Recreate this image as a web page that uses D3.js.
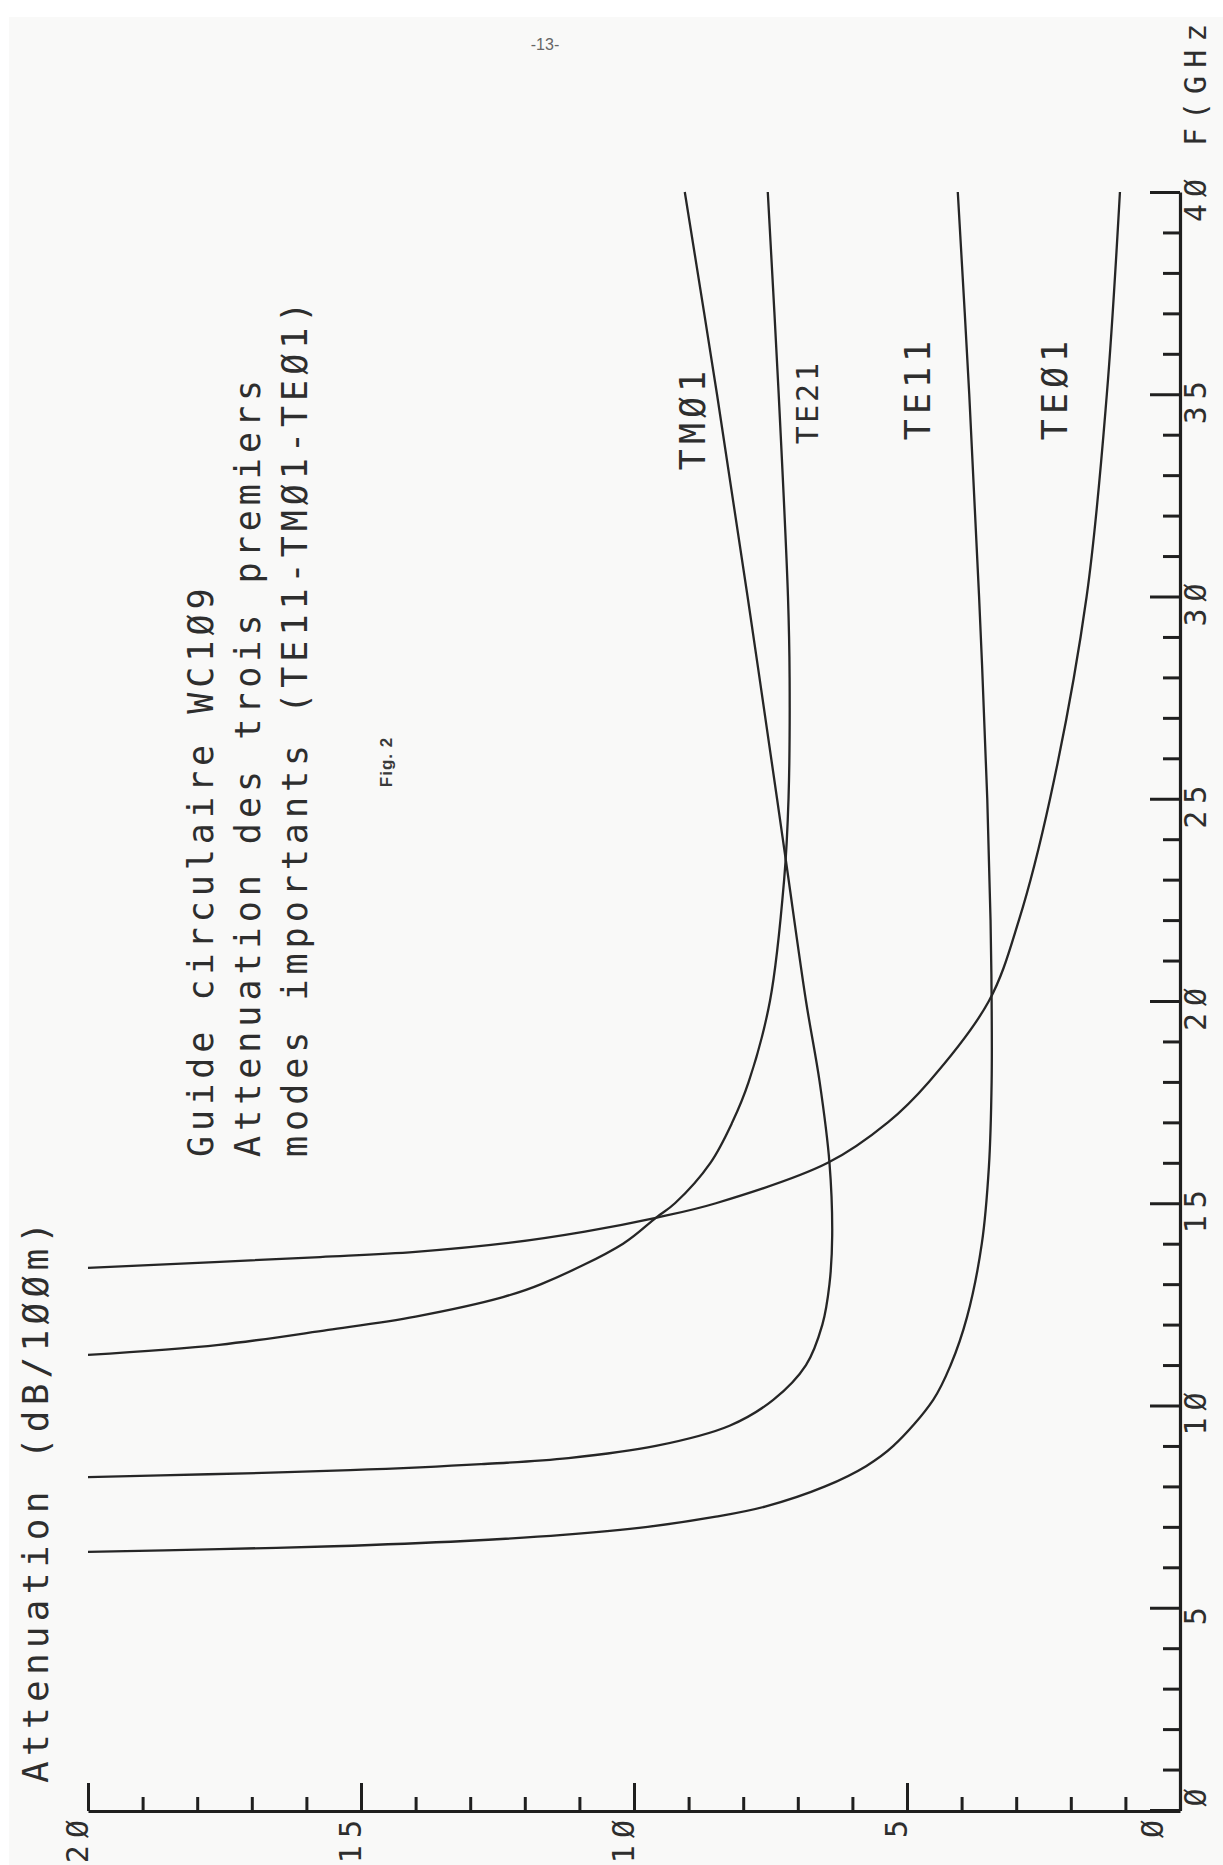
<!DOCTYPE html>
<html>
<head>
<meta charset="utf-8">
<script src="https://cdn.jsdelivr.net/npm/d3@7"></script>
<style>
  html, body { margin: 0; padding: 0; background: #ffffff; }
  svg { display: block; }
  .plot-text { font-family: "DejaVu Sans Mono", "Liberation Mono", monospace; fill: #2e2e2e; }
</style>
</head>
<body>
<div id="chart"></div>
<script>
// Attenuation (dB/100 m) of the first modes of circular guide WC109, as [frequency GHz, attenuation dB]
const modeTE11 = [[6.38,20.0],[6.45,17.6],[6.52,15.5],[6.65,13.1],[6.8,11.3],[7.0,9.75],[7.25,8.5],[7.5,7.6],[8.0,6.5],[8.5,5.75],[9.0,5.25],[10.14,4.52],[11.0,4.2],[12.19,3.9],[14.0,3.63],[15.9,3.5],[18.0,3.45],[20.0,3.45],[22.0,3.47],[25.0,3.53],[30.0,3.68],[35.0,3.86],[40.0,4.07]];
const modeTM01 = [[8.23,20.0],[8.3,17.8],[8.4,15.2],[8.55,12.8],[8.7,11.2],[9.0,9.6],[9.5,8.25],[10.14,7.45],[11.0,6.85],[12.0,6.55],[13.0,6.42],[14.2,6.37],[16.0,6.42],[18.0,6.6],[20.0,6.85],[23.3,7.2],[25.0,7.38],[30.0,7.92],[35.0,8.48],[40.0,9.07]];
const modeTE21 = [[11.25,20.0],[11.5,17.6],[11.87,15.6],[12.2,14.0],[12.68,12.4],[13.0,11.7],[14.0,10.2],[14.64,9.6],[15.0,9.25],[16.0,8.6],[17.0,8.2],[18.0,7.9],[20.0,7.51],[23.0,7.25],[25.0,7.17],[28.0,7.15],[30.0,7.18],[35.0,7.35],[40.0,7.55]];
const modeTE01 = [[13.4,20.0],[13.67,15.75],[13.8,14.0],[14.02,12.3],[14.3,10.9],[14.64,9.6],[15.0,8.5],[16.0,6.45],[17.0,5.35],[18.0,4.6],[20.0,3.5],[22.0,2.95],[25.0,2.38],[30.0,1.71],[35.0,1.34],[40.0,1.1]];

const modeNames = ["TE11", "TMØ1", "TE21", "TEØ1"];
const modeSeries = [modeTE11, modeTM01, modeTE21, modeTE01];

const freqTickValues = [0, 5, 10, 15, 20, 25, 30, 35, 40];
const attenTickValues = [0, 5, 10, 15, 20];

const titleLines = ["Guide circulaire WC1Ø9", "Attenuation des trois premiers", "modes importants (TE11-TMØ1-TEØ1)"];
const attenAxisTitle = "Attenuation (dB/1ØØm)";
const freqAxisTitle = "F(GHz";

const W = 1223, H = 1865;

// plotter character set draws zero with a slash
const plotterDigits = v => String(v).replace(/0/g, "Ø");

const svg = d3.select("#chart").append("svg")
  .attr("width", W).attr("height", H).attr("viewBox", `0 0 ${W} ${H}`);

svg.append("rect").attr("width", W).attr("height", H).attr("fill", "#ffffff");
svg.append("rect").attr("x", 9).attr("y", 17).attr("width", W - 9).attr("height", H - 17).attr("fill", "#f9f9f8");

// Page is drawn in landscape and turned: frequency runs bottom -> top, attenuation right -> left
const x = d3.scaleLinear().domain([0, 20]).range([1180, 88]);
const y = d3.scaleLinear().domain([0, 40]).range([1810, 192]);

// page number
svg.append("text").attr("x", 545).attr("y", 50).attr("text-anchor", "middle")
  .attr("font-family", "Liberation Sans, Arial, sans-serif").attr("font-size", 16)
  .attr("fill", "#666").text("-13-");

// attenuation axis (bottom), one tick per dB
const bottomAxis = d3.axisTop(x).tickValues(d3.range(0, 21)).tickFormat("").tickSizeOuter(0);
const gB = svg.append("g").attr("transform", "translate(0,1811)").call(bottomAxis);
gB.select(".domain").attr("stroke", "#1f1f1f").attr("stroke-width", 3.2);
gB.selectAll(".tick line").attr("stroke", "#1f1f1f").attr("stroke-width", 3)
  .attr("y2", d => d % 5 === 0 ? -28 : -14);

// frequency axis (right), one tick per GHz
const rightAxis = d3.axisLeft(y).tickValues(d3.range(0, 41)).tickFormat("").tickSizeOuter(0);
const gR = svg.append("g").attr("transform", "translate(1180,0)").call(rightAxis);
gR.select(".domain").attr("stroke", "#1f1f1f").attr("stroke-width", 3.2);
gR.selectAll(".tick line").attr("stroke", "#1f1f1f").attr("stroke-width", 3)
  .attr("x2", d => d % 5 === 0 ? -30 : -17);

// tick labels
svg.selectAll(".attenLabel").data(attenTickValues).join("text")
  .attr("class", "plot-text attenLabel")
  .attr("transform", d => `translate(${x(d) + (d === 0 ? -17 : 0)},1813) rotate(-90)`)
  .attr("text-anchor", "end").attr("font-size", 30).attr("letter-spacing", 7)
  .text(plotterDigits);

svg.selectAll(".freqLabel").data(freqTickValues).join("text")
  .attr("class", "plot-text freqLabel")
  .attr("transform", d => `translate(1206,${y(d) + (d === 0 ? -16 : 5)}) rotate(-90)`)
  .attr("text-anchor", "middle").attr("font-size", 30).attr("letter-spacing", 7)
  .text(plotterDigits);

svg.append("text").attr("class", "plot-text")
  .attr("transform", "translate(1206,146) rotate(-90)")
  .attr("font-size", 30).attr("letter-spacing", 8).text(freqAxisTitle);

svg.append("text").attr("class", "plot-text")
  .attr("transform", "translate(48,1783) rotate(-90)")
  .attr("font-size", 36).attr("letter-spacing", 5.3).text(attenAxisTitle);

// title block
svg.selectAll(".titleLine").data(titleLines).join("text")
  .attr("class", "plot-text titleLine")
  .attr("transform", (d, i) => `translate(${213 + i * 47},1157) rotate(-90)`)
  .attr("font-size", 35).attr("letter-spacing", 5).text(d => d);

svg.append("text")
  .attr("transform", "translate(392,762) rotate(-90)")
  .attr("text-anchor", "middle")
  .attr("font-family", "Liberation Sans, Arial, sans-serif").attr("font-weight", "bold")
  .attr("font-size", 17).attr("letter-spacing", 1).attr("fill", "#3a3a3a").text("Fig. 2");

// curves
const line = d3.line()
  .x(d => x(d[1]))
  .y(d => y(d[0]))
  .curve(d3.curveCatmullRom.alpha(0.5));

svg.selectAll(".mode").data(modeSeries).join("path")
  .attr("class", "mode")
  .attr("d", d => line(d))
  .attr("fill", "none").attr("stroke", "#262626").attr("stroke-width", 2.3)
  .attr("stroke-linejoin", "round");

// curve names
const nameSpots = [
  { name: modeNames[0], bx: 930, cy: 388, size: 35 },
  { name: modeNames[1], bx: 705, cy: 418, size: 35 },
  { name: modeNames[2], bx: 818, cy: 402, size: 30 },
  { name: modeNames[3], bx: 1067, cy: 388, size: 35 }
];
svg.selectAll(".modeName").data(nameSpots).join("text")
  .attr("class", "plot-text modeName")
  .attr("transform", d => `translate(${d.bx},${d.cy}) rotate(-90)`)
  .attr("text-anchor", "middle")
  .attr("font-size", d => d.size).attr("letter-spacing", d => d.size === 35 ? 5 : 3)
  .text(d => d.name);
</script>
</body>
</html>
